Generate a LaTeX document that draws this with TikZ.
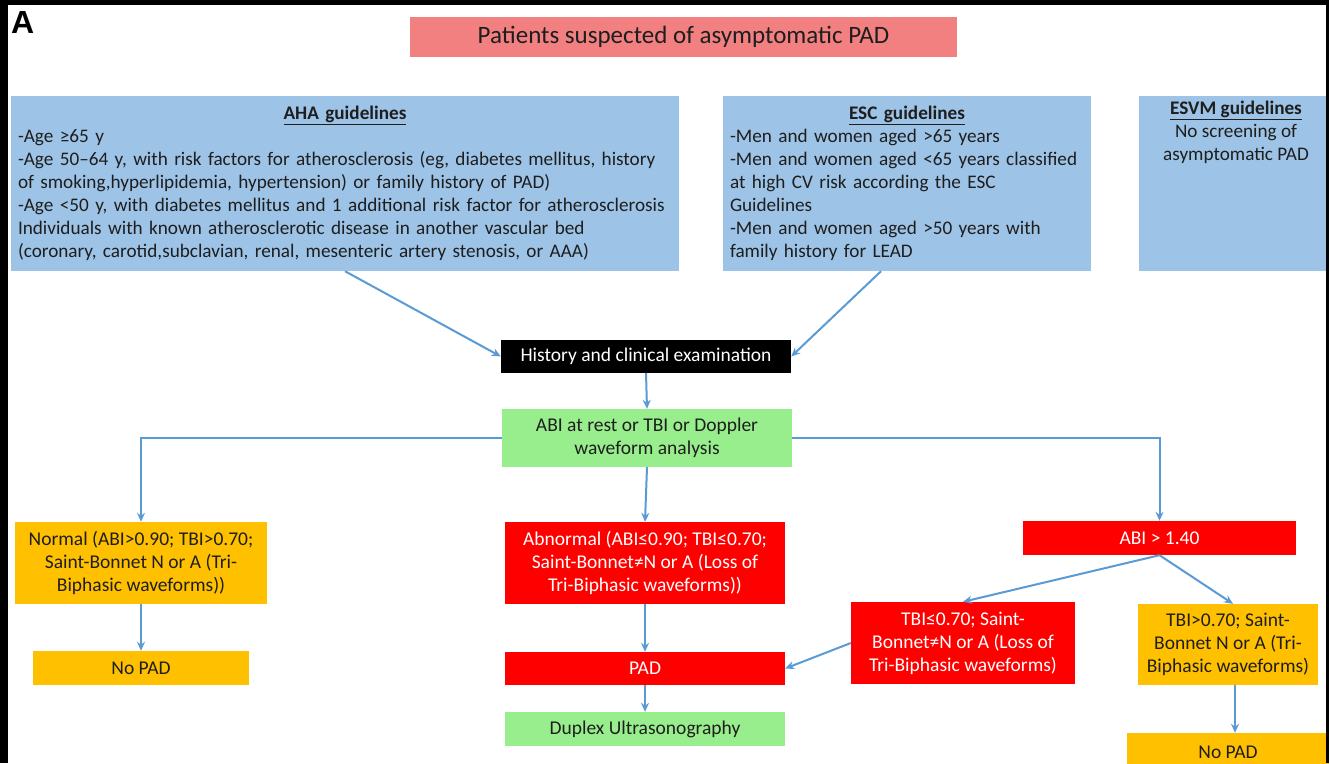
\documentclass[tikz,border=0pt]{standalone}
\usepackage{fontspec}
\setmainfont{Carlito}
\newfontfamily\arialfont{Liberation Sans}
\usetikzlibrary{arrows.meta}
\definecolor{salmon}{RGB}{242,128,128}
\definecolor{lblue}{RGB}{157,195,230}
\definecolor{lgreen}{RGB}{152,238,140}
\definecolor{orng}{RGB}{255,192,0}
\definecolor{rred}{RGB}{255,0,0}
\definecolor{arrc}{RGB}{91,155,213}
\definecolor{txt}{RGB}{30,30,30}
\tikzset{
  bx/.style={inner sep=0pt, align=center, text=txt, font=\fontsize{19.5}{23}\selectfont},
  bluebx/.style={bx, fill=lblue, font=\fontsize{19.2}{23}\selectfont},
  arr/.style={draw=arrc, line width=2pt, -{Stealth[length=9pt,width=8pt]}}
}
\begin{document}
\begin{tikzpicture}[x=1pt,y=-1pt]
\useasboundingbox (0,0) rectangle (1329,763);
\clip (0,0) rectangle (1329,763);
\fill[white] (0,0) rectangle (1329,763);
% title letter
\node[anchor=north west, inner sep=0pt, font=\arialfont\bfseries\fontsize{32}{32}\selectfont] (lettera) at (11,11) {A};
% top
\node[bx, fill=salmon, minimum width=547pt, minimum height=40pt, font=\fontsize{25}{28}\selectfont] (title) at (683.5,37) {Patients suspected of asymptomatic PAD};
\node[bluebx, minimum width=668pt, minimum height=175pt, text width=654pt, align=left] (aha) at (345,183.5)
 {\makebox[\linewidth]{\textbf{\underline{AHA guidelines}}}\\
  -Age ≥65 y\\
  -Age 50–64 y, with risk factors for atherosclerosis (eg, diabetes mellitus, history\\
  of smoking,hyperlipidemia, hypertension) or family history of PAD)\\
  -Age <50 y, with diabetes mellitus and 1 additional risk factor for atherosclerosis\\
  Individuals with known atherosclerotic disease in another vascular bed\\
  (coronary, carotid,subclavian, renal, mesenteric artery stenosis, or AAA)};
\node[bluebx, minimum width=368pt, minimum height=175pt, text width=354pt, align=left] (esc) at (907,183.5)
 {\makebox[\linewidth]{\textbf{\underline{ESC guidelines}}}\\
  -Men and women aged >65 years\\
  -Men and women aged <65 years classified\\
  at high CV risk according the ESC\\
  Guidelines\\
  -Men and women aged >50 years with\\
  family history for LEAD};
\node[bluebx, minimum width=188pt, minimum height=175pt] (esvm) at (1233,183.5) {};
\node[bx, anchor=north, font=\fontsize{19.2}{23}\selectfont] (esvmtext) at (1236,101)
 {\textbf{\underline{ESVM guidelines}}\\ No screening of\\ asymptomatic PAD};
% middle
\node[bx, fill=black, text=white, minimum width=290pt, minimum height=33pt] (hist) at (646,356.5) {History and clinical examination};
\node[bx, fill=lgreen, minimum width=290pt, minimum height=58pt] (abi) at (647,438) {ABI at rest or TBI or Doppler\\ waveform analysis};
% left
\node[bx, fill=orng, minimum width=252pt, minimum height=82pt] (normal) at (141,563) {Normal (ABI>0.90; TBI>0.70;\\ Saint-Bonnet N or A (Tri-\\ Biphasic waveforms))};
\node[bx, fill=orng, minimum width=216pt, minimum height=34pt] (nopadl) at (141,668) {No PAD};
% center
\node[bx, fill=rred, text=white, minimum width=280pt, minimum height=82pt] (abn) at (645,563) {Abnormal (ABI≤0.90; TBI≤0.70;\\ Saint-Bonnet≠N or A (Loss of\\ Tri-Biphasic waveforms))};
\node[bx, fill=rred, text=white, minimum width=280pt, minimum height=33pt] (pad) at (645,668.5) {PAD};
\node[bx, fill=lgreen, minimum width=280pt, minimum height=34pt] (duplex) at (645,729) {Duplex Ultrasonography};
% right
\node[bx, fill=rred, text=white, minimum width=273pt, minimum height=34pt] (abi14) at (1159.5,538) {ABI > 1.40};
\node[bx, fill=rred, text=white, minimum width=224pt, minimum height=82pt] (tbile) at (963,643) {TBI≤0.70; Saint-\\ Bonnet≠N or A (Loss of\\ Tri-Biphasic waveforms)};
\node[bx, fill=orng, minimum width=180pt, minimum height=81pt] (tbigt) at (1228,644.5) {TBI>0.70; Saint-\\ Bonnet N or A (Tri-\\ Biphasic waveforms)};
\node[bx, fill=orng, minimum width=202pt, minimum height=38pt] (nopadr) at (1228,752) {No PAD};
% connectors
\draw[arr] (aha.south) -- (hist.west);
\draw[arr] ([xshift=-26pt]esc.south) -- (hist.east);
\draw[arr] (hist.south) -- (abi.north);
\draw[arr] (abi.west) -| (normal.north);
\draw[arr] (abi.east) -| (abi14.north);
\draw[arr] (abi.south) -- (abn.north);
\draw[arr] (normal.south) -- (nopadl.north);
\draw[arr] (abn.south) -- (pad.north);
\draw[arr] (pad.south) -- (duplex.north);
\draw[arr] (abi14.south) -- (tbile.north);
\draw[arr] (abi14.south) -- ([xshift=5pt]tbigt.north);
\draw[arr] (tbile.west) -- (pad.east);
\draw[arr] ([xshift=7pt]tbigt.south) -- ([xshift=7pt]nopadr.north);
% black frame
\fill[black] (0,0) rectangle (1329,5);
\fill[black] (0,0) rectangle (8,763);
\fill[black] (1326,0) rectangle (1329,763);
\end{tikzpicture}
\end{document}
